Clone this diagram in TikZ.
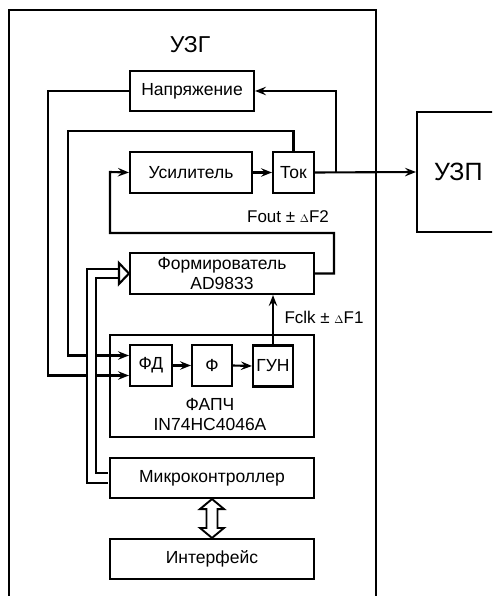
\documentclass[tikz,border=0pt]{standalone}
\usepackage{fontspec}
\setmainfont{Liberation Sans}
\usetikzlibrary{arrows.meta,calc}

\tikzset{
  blockbox/.style={draw, line width=2.1pt, inner sep=0pt, align=center,
    font=\fontsize{17.5}{20}\selectfont},
  sig/.style={line width=2.1pt, -{Stealth[length=11pt,width=8.5pt,inset=4pt]}},
  lbl/.style={font=\fontsize{17}{19}\selectfont, inner sep=0pt},
}
\newcommand{\smalldelta}{{\fontsize{11}{11}\selectfont$\Delta$}}

\begin{document}
\begin{tikzpicture}[x=1pt, y=-1pt, line cap=butt]
  \clip (0,0) rectangle (492,596);
  % outer frame
  \node (uzg) [draw, line width=2.1pt, anchor=north west, minimum width=367pt, minimum height=620pt] at (8,9) {};
  \node (uzgtitle) [font=\fontsize{23}{25}\selectfont] at (190,45) {УЗГ};
  % blocks
  \node (nap)  [blockbox, minimum width=124pt, minimum height=40pt] at (192,91) {Напряжение};
  \node (usil) [blockbox, minimum width=122pt, minimum height=41pt] at (191,172.5) {Усилитель};
  \node (tok)  [blockbox, minimum width=41pt,  minimum height=41pt] at (293.5,172.5) {Ток};
  \node (form) [blockbox, minimum width=184pt, minimum height=41pt] at (222,273.5) {Формирователь\\AD9833};
  \node (fapch) [blockbox, minimum width=204pt, minimum height=102pt] at (212,386) {};
  \node (fapchtxt) [font=\fontsize{17.5}{20}\selectfont, align=center, inner sep=0pt] at (210,415) {ФАПЧ\\IN74HC4046A};
  \node (fd)   [blockbox, minimum width=42pt, minimum height=41pt] at (151,365.5) {ФД};
  \node (f)    [blockbox, minimum width=40pt, minimum height=41pt] at (212,365.5) {Ф};
  \node (gun)  [blockbox, minimum width=40pt, minimum height=41pt] at (273,366) {ГУН};
  \node (mc)   [blockbox, minimum width=204pt, minimum height=40pt] at (212,478) {Микроконтроллер};
  \node (ifc)  [blockbox, minimum width=204pt, minimum height=40pt] at (212,559) {Интерфейс};
  \node (uzp)  [draw, line width=2.1pt, anchor=west, minimum height=120pt, inner xsep=17pt,
    text width=66pt, align=left, font=\fontsize{25}{27}\selectfont] at (416,172) {УЗП};
  % signal paths
  \coordinate (j1) at ($(tok.east)+(21,0)$);
  \draw[sig] (usil.east) -- (tok.west);
  \draw[sig] (tok.east) -- (uzp.west);
  \draw[sig] (j1) |- (nap.east);
  \draw[sig] (nap.west) -- ++(-81,0) |- ($(fd.west)+(0,10)$);
  \draw[sig] (tok.north) -- ++(0,-20) -| ($(fd.west)+(-61,-10)$) -- ($(fd.west)+(0,-10)$);
  \draw[sig] (form.east) -| (334,233) -| (110,172) -- (usil.west);
  \draw[sig] (fd.east) -- (f.west);
  \draw[sig] (f.east) -- (gun.west);
  \draw[sig] (gun.north) -- (gun.north |- form.south);
  \node (fout) [lbl] at (288,217) {Fout ± \smalldelta F2};
  \node (fclk) [lbl] at (324,317) {Fclk ± \smalldelta F1};
  % data bus from the microcontroller
  \draw[line width=2.1pt, double, double distance=7.4pt, line join=miter]
    ($(mc.west)+(-1,0)$) -- ++(-16.5,0) |- ($(form.west)+(-10,0)$);
  \draw[line width=2.1pt, fill=white, line join=miter]
    ($(form.west)+(-10,-10.5)$) -- (form.west) -- ($(form.west)+(-10,10.5)$) -- cycle;
  % two-way link to the interface
  \draw[line width=1.9pt, fill=white, line join=miter]
    (mc.south) -- ++(12,10) -- ++(-6.5,0) -- ($(ifc.north)+(5.5,-10)$) -- ++(6.5,0)
    -- (ifc.north) -- ++(-12,-10) -- ++(6.5,0) -- ($(mc.south)+(-5.5,10)$) -- ++(-6.5,0) -- cycle;
\end{tikzpicture}
\end{document}
